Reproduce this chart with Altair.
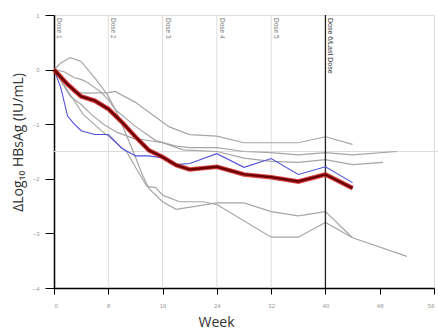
import altair as alt
import pandas as pd

# ---- data ----
mean_weeks = [0, 2, 4, 6, 8, 10, 12, 14, 16, 18, 20, 24, 28, 32, 36, 40, 44]
mean_vals = [0, -0.27, -0.49, -0.57, -0.72, -0.96, -1.23, -1.48, -1.6, -1.75, -1.83, -1.78, -1.92, -1.97, -2.05, -1.92, -2.17]

blue_weeks = [0, 1, 2, 3, 4, 6, 8, 10, 12, 14, 16, 18, 20, 24, 28, 32, 36, 40, 44]
blue_vals = [0, -0.33, -0.85, -1.0, -1.12, -1.19, -1.19, -1.44, -1.58, -1.58, -1.62, -1.74, -1.72, -1.54, -1.79, -1.63, -1.92, -1.78, -2.07]

g1_weeks = [0, 3, 5, 8, 9, 12, 14, 17, 20, 24, 28, 32, 36, 40, 44]
g1_vals = [0, -0.42, -0.43, -0.42, -0.4, -0.6, -0.78, -1.05, -1.19, -1.22, -1.34, -1.34, -1.34, -1.23, -1.37]

g2_weeks = [0, 1.5, 3, 4, 5, 6, 7, 8, 9, 12, 15, 18, 20, 24, 28, 32, 36, 40, 44, 50.5]
g2_vals = [0, -0.04, -0.15, -0.18, -0.24, -0.33, -0.42, -0.55, -0.73, -1.04, -1.3, -1.4, -1.43, -1.43, -1.5, -1.52, -1.56, -1.52, -1.56, -1.5]

g3_weeks = [0, 2.4, 4, 5.5, 7.3, 9.3, 11.7, 13, 16, 19, 24, 28, 32, 36, 40, 44, 48.5]
g3_vals = [0, -0.49, -0.64, -0.82, -1.0, -1.15, -1.26, -1.28, -1.34, -1.47, -1.5, -1.62, -1.68, -1.7, -1.65, -1.74, -1.7]

g4_weeks = [0, 2.4, 4.3, 6.8, 8.3, 10.8, 12.2, 13.7, 15, 16, 18.5, 22, 24, 32, 36, 40, 44, 52]
g4_vals = [0, -0.46, -0.82, -1.1, -1.25, -1.52, -1.83, -2.14, -2.16, -2.3, -2.42, -2.42, -2.47, -3.07, -3.07, -2.8, -3.08, -3.42]

g5_weeks = [0, 1, 2.4, 4, 5, 6, 7, 8, 9, 10, 11, 12, 13, 14, 16, 18, 21, 24, 28, 32, 36, 40, 44]
g5_vals = [0, 0.12, 0.22, 0.15, 0, -0.15, -0.31, -0.49, -0.72, -1.0, -1.3, -1.6, -1.92, -2.18, -2.42, -2.56, -2.5, -2.44, -2.44, -2.6, -2.68, -2.6, -3.08]

dose_weeks = [0, 8, 16, 24, 32]
dose_labels = ["Dose 1", "Dose 2", "Dose 3", "Dose 4", "Dose 5"]
last_week = [40]
last_label = ["Dose 6/Last Dose"]
ref_level = [-1.5]

x_ticks = [0, 4, 8, 12, 16, 20, 24, 28, 32, 36, 40, 44, 48, 52, 56]
y_ticks = [-4, -3.5, -3, -2.5, -2, -1.5, -1, -0.5, 0, 0.5, 1]

# ---- tables ----
def frame(name, w, v):
    return pd.DataFrame({"week": w, "value": v, "series": name})

gray_df = pd.concat([
    frame("g1", g1_weeks, g1_vals),
    frame("g2", g2_weeks, g2_vals),
    frame("g3", g3_weeks, g3_vals),
    frame("g4", g4_weeks, g4_vals),
    frame("g5", g5_weeks, g5_vals),
])
blue_df = frame("blue", blue_weeks, blue_vals)
mean_df = frame("mean", mean_weeks, mean_vals)
dose_df = pd.DataFrame({"week": dose_weeks, "label": dose_labels})
last_df = pd.DataFrame({"week": last_week, "label": last_label})
ref_df = pd.DataFrame({"value": ref_level})

xscale = alt.Scale(domain=[0, 56], nice=False, zero=False)
yscale = alt.Scale(domain=[-4, 1], nice=False, zero=False)

x_axis = alt.Axis(
    values=x_ticks, labelExpr="datum.value % 8 === 0 ? datum.label : ''",
    tickSize={"condition": {"test": "datum.value % 8 === 0", "value": 6}, "value": 4},
    tickColor="black", domainColor="black", domainWidth=1.5, tickWidth=1,
    labelFontSize=6, labelColor="#999999", labelPadding=8, grid=False,
    title="Week", titleFontSize=14, titleFont="Open Sans", titleFontWeight="normal",
    titleColor="#333333", titleX=162, titleY=38, titleBaseline="alphabetic", titleAlign="center",
)
y_axis = alt.Axis(
    values=y_ticks, labelExpr="datum.value % 1 === 0 ? datum.label : ''",
    tickSize={"condition": {"test": "datum.value % 1 === 0", "value": 9}, "value": 6},
    tickColor="black", domainColor="black", domainWidth=1.5, tickWidth=1,
    labelFontSize=6, labelColor="#999999", labelPadding=6, grid=False,
    title="ΔLog₁₀ HBsAg (IU/mL)", titleFontSize=14, titleFont="Open Sans", titleFontWeight="normal",
    titleColor="#333333", titleX=-36, titleY=127, titleAngle=270, titleBaseline="middle", titleAlign="center",
)

vrules = alt.Chart(dose_df).mark_rule(color="#dcdcdc", strokeWidth=1).encode(
    x=alt.X("week:Q", scale=xscale, axis=x_axis)
).transform_filter("datum.week > 0")
last_rule = alt.Chart(last_df).mark_rule(color="#222222", strokeWidth=1.3).encode(
    x=alt.X("week:Q", scale=xscale)
)
hrule = alt.Chart(ref_df).mark_rule(color="#dcdcdc", strokeWidth=1).encode(
    y=alt.Y("value:Q", scale=yscale, axis=y_axis),
    x=alt.value(0), x2=alt.value(384),
)

gray = alt.Chart(gray_df).mark_line(color="#a6a6a6", strokeWidth=1.2).encode(
    x=alt.X("week:Q", scale=xscale),
    y=alt.Y("value:Q", scale=yscale),
    detail="series:N",
)
blue = alt.Chart(blue_df).mark_line(color="#5050dc", strokeWidth=1.1).encode(
    x=alt.X("week:Q", scale=xscale), y=alt.Y("value:Q", scale=yscale)
)
mean_halo = alt.Chart(mean_df).mark_line(color="#d02020", strokeWidth=4.6, opacity=0.85).encode(
    x=alt.X("week:Q", scale=xscale), y=alt.Y("value:Q", scale=yscale)
)
mean_core = alt.Chart(mean_df).mark_line(color="#6a0000", strokeWidth=2.4).encode(
    x=alt.X("week:Q", scale=xscale), y=alt.Y("value:Q", scale=yscale)
)

dose_text = alt.Chart(dose_df).mark_text(
    angle=90, align="left", baseline="bottom", fontSize=6.5, dx=3, dy=-2,
    color="#777777", font="Liberation Sans",
).encode(x=alt.X("week:Q", scale=xscale), y=alt.value(0), text="label:N")
last_text = alt.Chart(last_df).mark_text(
    angle=90, align="left", baseline="bottom", fontSize=7, dx=3, dy=-2,
    color="#333333", font="Liberation Sans",
).encode(x=alt.X("week:Q", scale=xscale), y=alt.value(0), text="label:N")

chart = alt.layer(
    vrules, hrule, gray, last_rule, blue, mean_halo, mean_core, dose_text, last_text
).properties(
    width=380, height=273,
    autosize=alt.AutoSizeParams(type="none"),
    padding={"left": 54, "top": 15, "right": 4, "bottom": 41},
).configure_view(stroke=None).configure(background="white")

chart.save("out.html", embed_options={"renderer": "svg", "actions": False})
